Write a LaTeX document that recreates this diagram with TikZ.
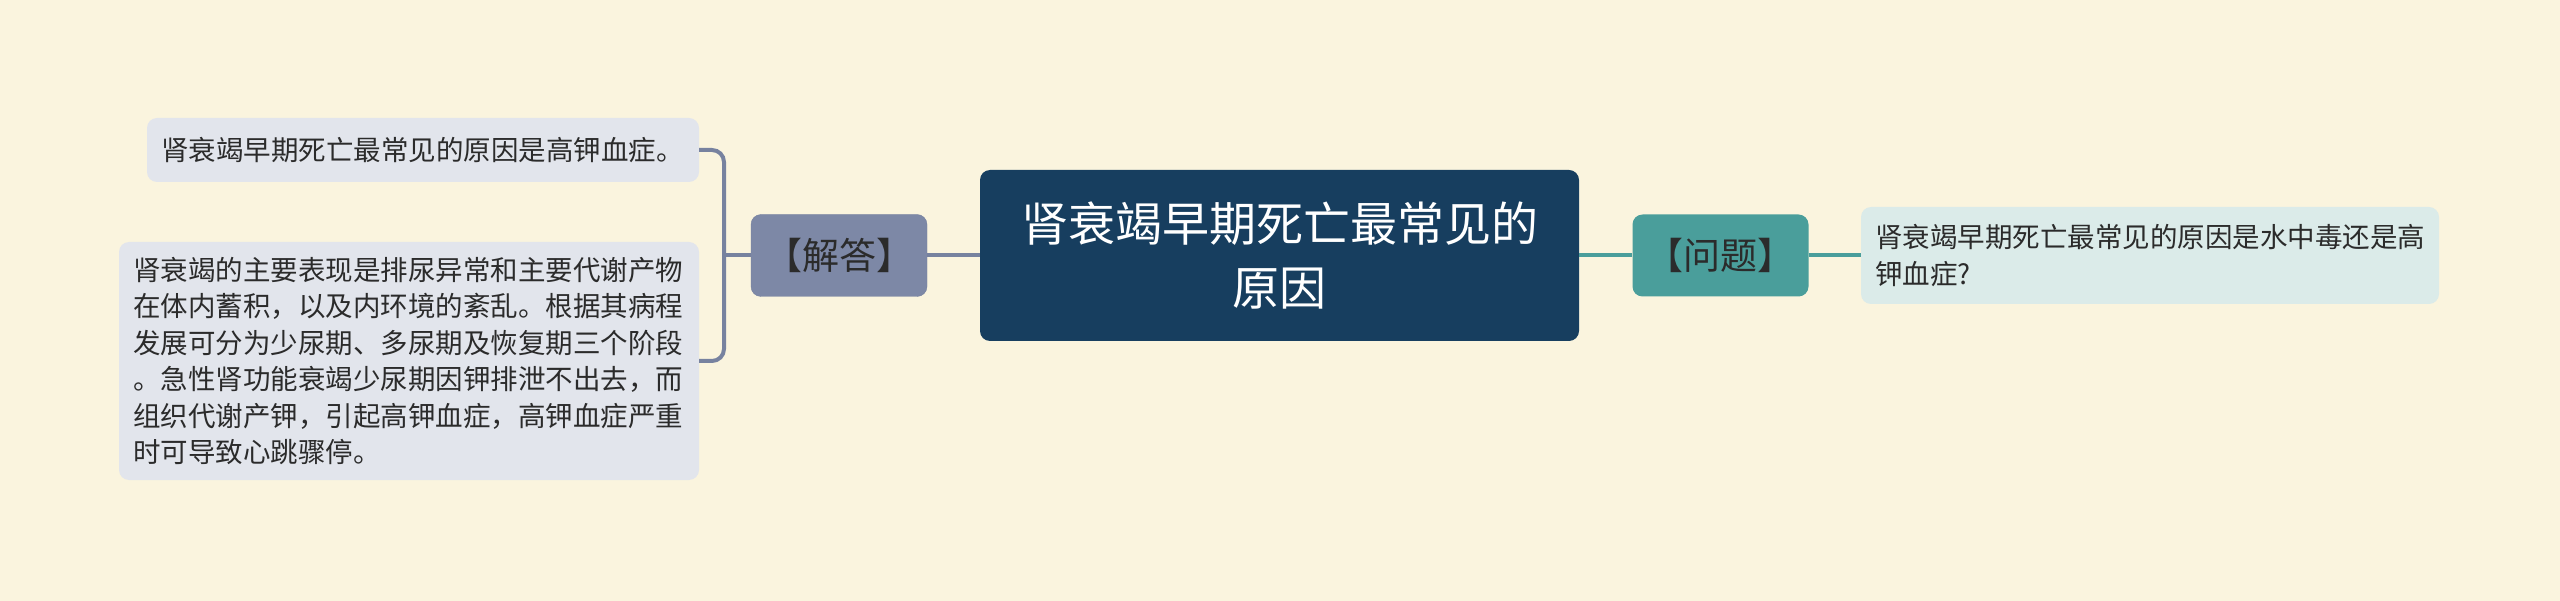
\documentclass[tikz,border=0pt]{standalone}
\usepackage{fontspec}
\setmainfont{Noto Sans CJK SC}
\usepackage{xcolor}
\usepackage{tikz}

\definecolor{bgcream}{HTML}{FAF4DE}
\definecolor{rootblue}{HTML}{173E5F}
\definecolor{ansgray}{HTML}{7D88A6}
\definecolor{ansline}{HTML}{77829F}
\definecolor{ansleaf}{HTML}{E2E5EC}
\definecolor{qteal}{HTML}{4A9E9B}
\definecolor{qleaf}{HTML}{DBEBE9}
\definecolor{darktext}{HTML}{2B2B2B}

\begin{document}
\begin{tikzpicture}[x=1pt,y=-1pt,
  rootbox/.style={fill=rootblue,rounded corners=10pt,text=white,align=center,
    minimum width=599pt,minimum height=171pt,font=\fontsize{47}{64}\selectfont},
  tagbox/.style={rounded corners=10pt,text=darktext,minimum width=176pt,
    minimum height=82pt,inner xsep=4pt,font=\fontsize{37}{40}\selectfont},
  leafbox/.style={rounded corners=10pt,text=darktext,align=left,inner xsep=14pt,
    font=\fontsize{27.5}{36.5}\selectfont},
  wire/.style={line width=4pt}]
\fill[bgcream] (0,0) rectangle (2560,601);
\useasboundingbox (0,0) rectangle (2560,601);

\node[rootbox] (root) at (1279.5,255.5) {肾衰竭早期死亡最常见的\\原因};
\node[tagbox,fill=ansgray,draw=ansline] (jieda) at (839,255.5) {【解答】};
\node[tagbox,fill=qteal] (wenti) at (1720.5,255.5) {【问题】};

\node[leafbox,fill=qleaf,text width=550pt,minimum height=97pt] (qleaf) at (2150,255.5)
  {肾衰竭早期死亡最常见的原因是水中毒还是高\\钾血症?};
\node[leafbox,fill=ansleaf,text width=524pt,minimum height=64pt] (aone) at (423,150)
  {肾衰竭早期死亡最常见的原因是高钾血症。};
\node[leafbox,fill=ansleaf,text width=552pt,minimum height=238pt] (atwo) at (409,361)
  {肾衰竭的主要表现是排尿异常和主要代谢产物\\
   在体内蓄积，以及内环境的紊乱。根据其病程\\
   发展可分为少尿期、多尿期及恢复期三个阶段\\
   。急性肾功能衰竭少尿期因钾排泄不出去，而\\
   组织代谢产钾，引起高钾血症，高钾血症严重\\
   时可导致心跳骤停。};

\coordinate (fork) at (724,255.5);
\draw[wire,ansline,rounded corners=12pt] (aone.east) -| (fork) |- (atwo.east);
\draw[wire,ansline] (jieda.west) -- (fork);
\draw[wire,ansline] (jieda.east) -- (root.west);
\draw[wire,qteal] (root.east) -- (wenti.west);
\draw[wire,qteal] (wenti.east) -- (qleaf.west);
\end{tikzpicture}
\end{document}
